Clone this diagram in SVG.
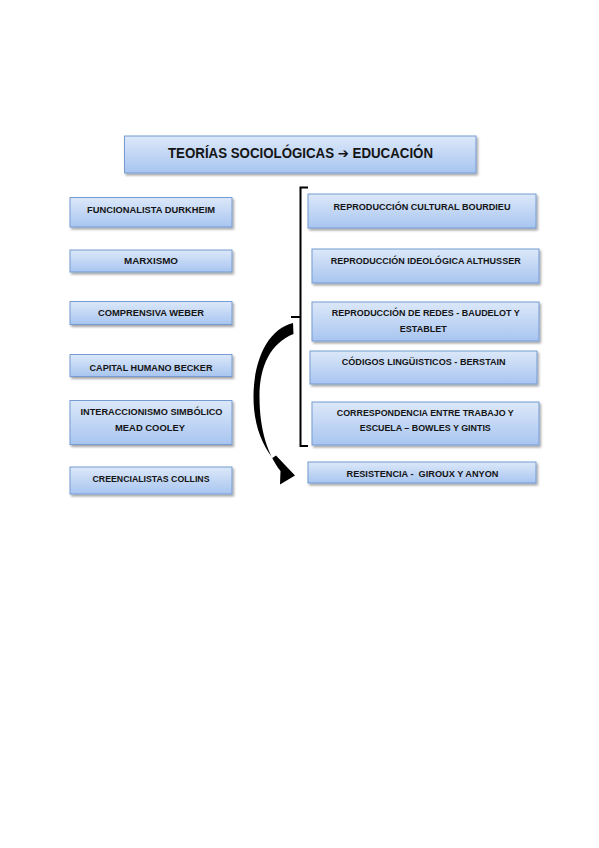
<svg xmlns="http://www.w3.org/2000/svg" width="599" height="848" viewBox="0 0 599 848">
<defs>
<linearGradient id="g" x1="0" y1="0" x2="0" y2="1">
<stop offset="0" stop-color="#dce8f9"/>
<stop offset="1" stop-color="#a8c5f0"/>
</linearGradient>
<filter id="sh" x="-5%" y="-20%" width="115%" height="150%">
<feDropShadow dx="1.5" dy="2" stdDeviation="1" flood-color="#000" flood-opacity="0.35"/>
</filter>
<style>
.box{fill:url(#g);stroke:#759bd2;stroke-width:1;filter:url(#sh)}
.t{font-family:"Liberation Sans","DejaVu Sans",Arial,sans-serif;font-weight:bold;font-size:9px;fill:#141414;text-anchor:middle}
.title{font-size:14px}
.br{fill:none;stroke:#000;stroke-width:2}
</style>
</defs>
<rect width="599" height="848" fill="#fff"/>
<g id="title">
<rect class="box" x="124.5" y="136" width="351.5" height="37"/>
<text class="t title" x="300.5" y="158" textLength="265" lengthAdjust="spacingAndGlyphs">TEORÍAS SOCIOLÓGICAS ➔ EDUCACIÓN</text>
</g>
<g id="funcionalista">
<rect class="box" x="70" y="197.5" width="162" height="29.5"/>
<text class="t" x="151" y="212.7" textLength="128" lengthAdjust="spacingAndGlyphs">FUNCIONALISTA DURKHEIM</text>
</g>
<g id="marxismo">
<rect class="box" x="70" y="250" width="162" height="22"/>
<text class="t" x="151" y="264" textLength="54" lengthAdjust="spacingAndGlyphs">MARXISMO</text>
</g>
<g id="comprensiva">
<rect class="box" x="70" y="301.5" width="162" height="23"/>
<text class="t" x="151" y="316" textLength="106" lengthAdjust="spacingAndGlyphs">COMPRENSIVA WEBER</text>
</g>
<g id="capital">
<rect class="box" x="70" y="354.5" width="162" height="22"/>
<text class="t" x="151" y="370.7" textLength="123" lengthAdjust="spacingAndGlyphs">CAPITAL HUMANO BECKER</text>
</g>
<g id="interaccionismo">
<rect class="box" x="70" y="400.5" width="162" height="44"/>
<text class="t" x="151.5" y="415" textLength="142" lengthAdjust="spacingAndGlyphs">INTERACCIONISMO SIMBÓLICO</text>
<text class="t" x="150" y="430.7" textLength="70" lengthAdjust="spacingAndGlyphs">MEAD COOLEY</text>
</g>
<g id="creencialistas">
<rect class="box" x="70" y="467" width="162" height="27"/>
<text class="t" x="151" y="481.7" textLength="117" lengthAdjust="spacingAndGlyphs">CREENCIALISTAS COLLINS</text>
</g>
<g id="bourdieu">
<rect class="box" x="308" y="194" width="228" height="34"/>
<text class="t" x="422" y="210" textLength="177" lengthAdjust="spacingAndGlyphs">REPRODUCCIÓN CULTURAL BOURDIEU</text>
</g>
<g id="althusser">
<rect class="box" x="312" y="249" width="227" height="34"/>
<text class="t" x="425.7" y="264" textLength="190" lengthAdjust="spacingAndGlyphs">REPRODUCCIÓN IDEOLÓGICA ALTHUSSER</text>
</g>
<g id="baudelot">
<rect class="box" x="312" y="302" width="227" height="39"/>
<text class="t" x="425.8" y="316" textLength="188" lengthAdjust="spacingAndGlyphs">REPRODUCCIÓN DE REDES - BAUDELOT Y</text>
<text class="t" x="423.3" y="331.7" textLength="47" lengthAdjust="spacingAndGlyphs">ESTABLET</text>
</g>
<g id="codigos">
<rect class="box" x="310" y="351" width="227" height="33"/>
<text class="t" x="423.7" y="365" textLength="164" lengthAdjust="spacingAndGlyphs">CÓDIGOS LINGÜISTICOS - BERSTAIN</text>
</g>
<g id="correspondencia">
<rect class="box" x="312" y="402" width="227" height="43"/>
<text class="t" x="425.3" y="416" textLength="177" lengthAdjust="spacingAndGlyphs">CORRESPONDENCIA ENTRE TRABAJO Y</text>
<text class="t" x="425.3" y="430.7" textLength="131" lengthAdjust="spacingAndGlyphs">ESCUELA – BOWLES Y GINTIS</text>
</g>
<g id="resistencia">
<rect class="box" x="308" y="462" width="228" height="21"/>
<text class="t" x="422.5" y="476.7" textLength="152" lengthAdjust="spacingAndGlyphs" xml:space="preserve">RESISTENCIA -  GIROUX Y ANYON</text>
</g>
<g id="connectors">
<path class="br" d="M308,187.5 H300.5 V446 H308 M300.5,317 H291"/>
<path fill="#000" d="M293,323 C268,329 253.5,360 253.5,397 C253.5,423 261,443 272.5,458 L276,455.5 L295,475.5 L280,484.5 L280.5,471 C268,455 259.5,430 259.5,397 C259.5,365 271,343 293.5,334 Z"/>
</g>
</svg>
